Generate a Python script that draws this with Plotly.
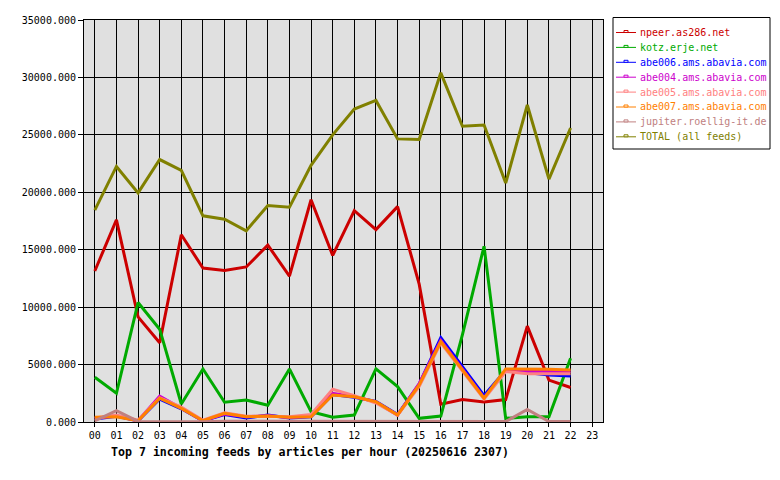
import plotly.graph_objects as go

hours = list(range(24))
hour_labels = [f"{h:02d}" for h in hours]

npeer = [13150, 17600, 9150, 6900, 16300, 13400, 13200, 13500, 15400, 12700, 19350, 14500,
         18400, 16750, 18750, 12000, 1550, 1950, 1750, 1950, 8350, 3650, 3000]
kotz = [3900, 2500, 10400, 8080, 1570, 4620, 1720, 1920, 1460, 4620, 900, 410,
        610, 4620, 3080, 320, 520, 7600, 15300, 320, 460, 460, 5550]
abe006 = [250, 500, 100, 2000, 1150, 100, 650, 350, 600, 350, 450, 2400,
          2150, 1800, 650, 3300, 7350, 4800, 2300, 4500, 4300, 4100, 4000]
abe004 = [300, 550, 100, 2250, 1200, 100, 700, 450, 550, 400, 500, 2500,
          2200, 1750, 600, 3350, 7100, 4600, 2100, 4450, 4400, 4400, 4400]
abe005 = [350, 600, 150, 2100, 1300, 150, 800, 500, 500, 450, 650, 2850,
          2300, 1650, 600, 3100, 6900, 4500, 2000, 4400, 4200, 4200, 4200]
abe007 = [410, 460, 110, 2070, 1190, 110, 760, 460, 520, 410, 460, 2350,
          2200, 1770, 610, 3230, 7000, 4530, 2070, 4620, 4620, 4600, 4530]
jupiter = [100, 990, 50, 20, 20, 20, 60, 60, 60, 60, 60, 60,
           40, 40, 40, 40, 40, 40, 40, 40, 1100, 40, 40]
total = [18450, 22250, 19950, 22850, 21900, 17950, 17650, 16650, 18850, 18700, 22350, 25000,
         27250, 28000, 24650, 24600, 30400, 25750, 25850, 20800, 27600, 21150, 25600]

series = [
    ("npeer.as286.net", npeer, "#cc0000"),
    ("kotz.erje.net", kotz, "#00aa00"),
    ("abe006.ams.abavia.com", abe006, "#0000ff"),
    ("abe004.ams.abavia.com", abe004, "#cc00cc"),
    ("abe005.ams.abavia.com", abe005, "#ff8080"),
    ("abe007.ams.abavia.com", abe007, "#ff8000"),
    ("jupiter.roellig-it.de", jupiter, "#c08080"),
    ("TOTAL (all feeds)", total, "#808000"),
]

L, R, T, B = 84, 603, 20, 422
W, H = 780, 480
PW, PH = R - L, B - T


def px(x):
    return (x - L) / PW


def py(y):
    return (B - y) / PH


fig = go.Figure()
for name, vals, col in series:
    fig.add_trace(go.Scatter(x=hours[:len(vals)], y=vals, mode="lines", name=name,
                             line=dict(color=col, width=3), showlegend=False,
                             hoverinfo="skip"))

mono = "DejaVu Sans Mono"
shapes = []
annotations = []
# legend box
shapes.append(dict(type="rect", xref="paper", yref="paper",
                   x0=px(613), x1=px(770), y0=py(149), y1=py(17.5),
                   line=dict(color="black", width=1), fillcolor="white", layer="above"))
for i, (name, vals, col) in enumerate(series):
    yy = 32.5 + i * 14.9
    shapes.append(dict(type="line", xref="paper", yref="paper",
                       x0=px(616), x1=px(636), y0=py(yy), y1=py(yy),
                       line=dict(color=col, width=1), layer="above"))
    shapes.append(dict(type="rect", xref="paper", yref="paper",
                       x0=px(624), x1=px(628), y0=py(yy), y1=py(yy - 2),
                       line=dict(color=col, width=1), fillcolor="white", layer="above"))
    annotations.append(dict(text=name, xref="paper", yref="paper", x=px(638), y=py(yy),
                            xanchor="left", yanchor="middle", showarrow=False,
                            font=dict(family=mono, size=10, color=col)))

annotations.append(dict(text="<b>Top 7 incoming feeds by articles per hour (20250616 2307)</b>",
                        xref="paper", yref="paper", x=px(109), y=py(452),
                        xanchor="left", yanchor="middle", showarrow=False,
                        font=dict(family=mono, size=11.6, color="black")))

fig.update_layout(
    width=W, height=H,
    margin=dict(l=L, r=W - R, t=T, b=H - B, autoexpand=False),
    paper_bgcolor="white", plot_bgcolor="#e0e0e0",
    font=dict(family=mono, size=10, color="black"),
    showlegend=False,
    hovermode=False,
    xaxis=dict(range=[-0.5, 23.5], tickmode="array", tickvals=hours, ticktext=hour_labels,
               showgrid=True, gridcolor="black", gridwidth=1, zeroline=False,
               showline=True, linecolor="black", linewidth=1, mirror=True,
               ticks="outside", ticklen=4, tickcolor="black",
               tickfont=dict(family=mono, size=10)),
    yaxis=dict(range=[0, 35000], tickmode="array", tickvals=list(range(0, 35001, 5000)),
               tickformat=".3f", showgrid=True, gridcolor="black", gridwidth=1,
               zeroline=False, showline=True, linecolor="black", linewidth=1, mirror=True,
               ticks="outside", ticklen=5, tickcolor="black",
               tickfont=dict(family=mono, size=10)),
    shapes=shapes,
    annotations=annotations,
)

fig.write_html("out.html", config={"displayModeBar": False, "staticPlot": True},
               post_script="document.body.style.margin='0';document.body.style.overflow='hidden';")
